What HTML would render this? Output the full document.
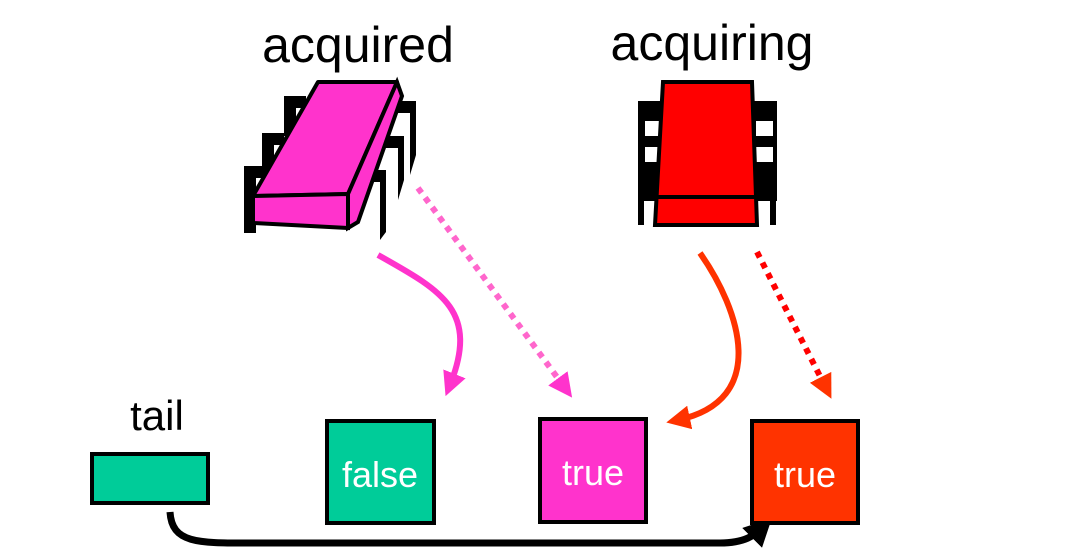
<!DOCTYPE html>
<html><head><style>
body{margin:0;background:#fff;}
svg{display:block;font-family:"Liberation Sans",sans-serif;}
</style></head><body>
<svg width="1080" height="557" viewBox="0 0 1080 557">
<defs>
<marker id="mp" markerWidth="4" markerHeight="4" refX="2" refY="2" orient="auto" markerUnits="strokeWidth"><path d="M0,0 L4,2 L0,4 z" fill="#ff33cc"/></marker>
<marker id="mr" markerWidth="4" markerHeight="4" refX="2" refY="2" orient="auto" markerUnits="strokeWidth"><path d="M0,0 L4,2 L0,4 z" fill="#ff3300"/></marker>
<marker id="mk" markerWidth="4" markerHeight="4" refX="2" refY="2" orient="auto" markerUnits="strokeWidth"><path d="M0,0 L4,2 L0,4 z" fill="#000"/></marker>
</defs>
<text x="358" y="62" font-size="50" text-anchor="middle">acquired</text>
<text x="712" y="60" font-size="50" text-anchor="middle">acquiring</text>
<text x="157" y="430" font-size="42" text-anchor="middle">tail</text>

<!-- chip 1 legs -->
<g fill="#000">
<path d="M284,96 h22 v12 h-10 v28 h-12z"/>
<path d="M262,133 h22 v12 h-10 v30 h-12z"/>
<path d="M244,166 h22 v12 h-10 v55 h-12z"/>
<path d="M394,101 h22 v54 l-6,20 v-62 h-16z"/>
<path d="M382,136 h22 v44 l-6,20 v-52 h-16z"/>
<path d="M362,170 h24 v62 l-6,8 v-58 h-18z"/>
</g>
<polygon points="318,82 397,82 348,194 253,196" fill="#ff33cc" stroke="#000" stroke-width="4" stroke-linejoin="round"/>
<polygon points="253,196 348,194 348,228 253,223" fill="#ff33cc" stroke="#000" stroke-width="4"/>
<polygon points="397,82 402,96 358,222 348,228 348,194" fill="#ff33cc" stroke="#000" stroke-width="4"/>

<!-- chip 2 -->
<g fill="#000">
<rect x="638" y="101" width="28" height="100"/>
<rect x="749" y="101" width="28" height="100"/>
<rect x="638" y="190" width="6" height="35"/>
<rect x="770" y="190" width="6" height="35"/>
</g>
<rect x="645" y="121" width="17" height="15" fill="#fff"/>
<rect x="645" y="147" width="17" height="15" fill="#fff"/>
<rect x="756" y="121" width="17" height="15" fill="#fff"/>
<rect x="756" y="147" width="17" height="15" fill="#fff"/>
<polygon points="663,82 752,82 757,225 655,225" fill="#ff0000" stroke="#000" stroke-width="4"/>
<line x1="657" y1="197" x2="757" y2="197" stroke="#000" stroke-width="4"/>

<!-- arrows -->
<path d="M378,255 C440,290 480,310 450,385" fill="none" stroke="#ff33cc" stroke-width="6" marker-end="url(#mp)"/>
<path d="M418,188 L565,388" fill="none" stroke="#ff66cc" stroke-width="6" stroke-dasharray="6,6" marker-end="url(#mp)"/>
<path d="M700,253 C740,310 770,400 678,420" fill="none" stroke="#ff3300" stroke-width="6" marker-end="url(#mr)"/>
<path d="M757,252 L826,388" fill="none" stroke="#ff0000" stroke-width="6" stroke-dasharray="6,6" marker-end="url(#mr)"/>
<path d="M170,512 C172,545 200,543 260,543 L720,543 C745,543 755,535 762,528" fill="none" stroke="#000" stroke-width="7" marker-end="url(#mk)"/>

<!-- boxes -->
<rect x="92" y="454" width="116" height="49" fill="#00cc99" stroke="#000" stroke-width="4"/>
<rect x="327" y="421" width="107" height="102" fill="#00cc99" stroke="#000" stroke-width="4"/>
<rect x="540" y="419" width="106" height="103" fill="#ff33cc" stroke="#000" stroke-width="4"/>
<rect x="752" y="421" width="106" height="102" fill="#ff3300" stroke="#000" stroke-width="4"/>
<text x="380" y="487" font-size="36" fill="#fff" text-anchor="middle">false</text>
<text x="593" y="485" font-size="36" fill="#fff" text-anchor="middle">true</text>
<text x="805" y="487" font-size="36" fill="#fff" text-anchor="middle">true</text>
</svg>
</body></html>
